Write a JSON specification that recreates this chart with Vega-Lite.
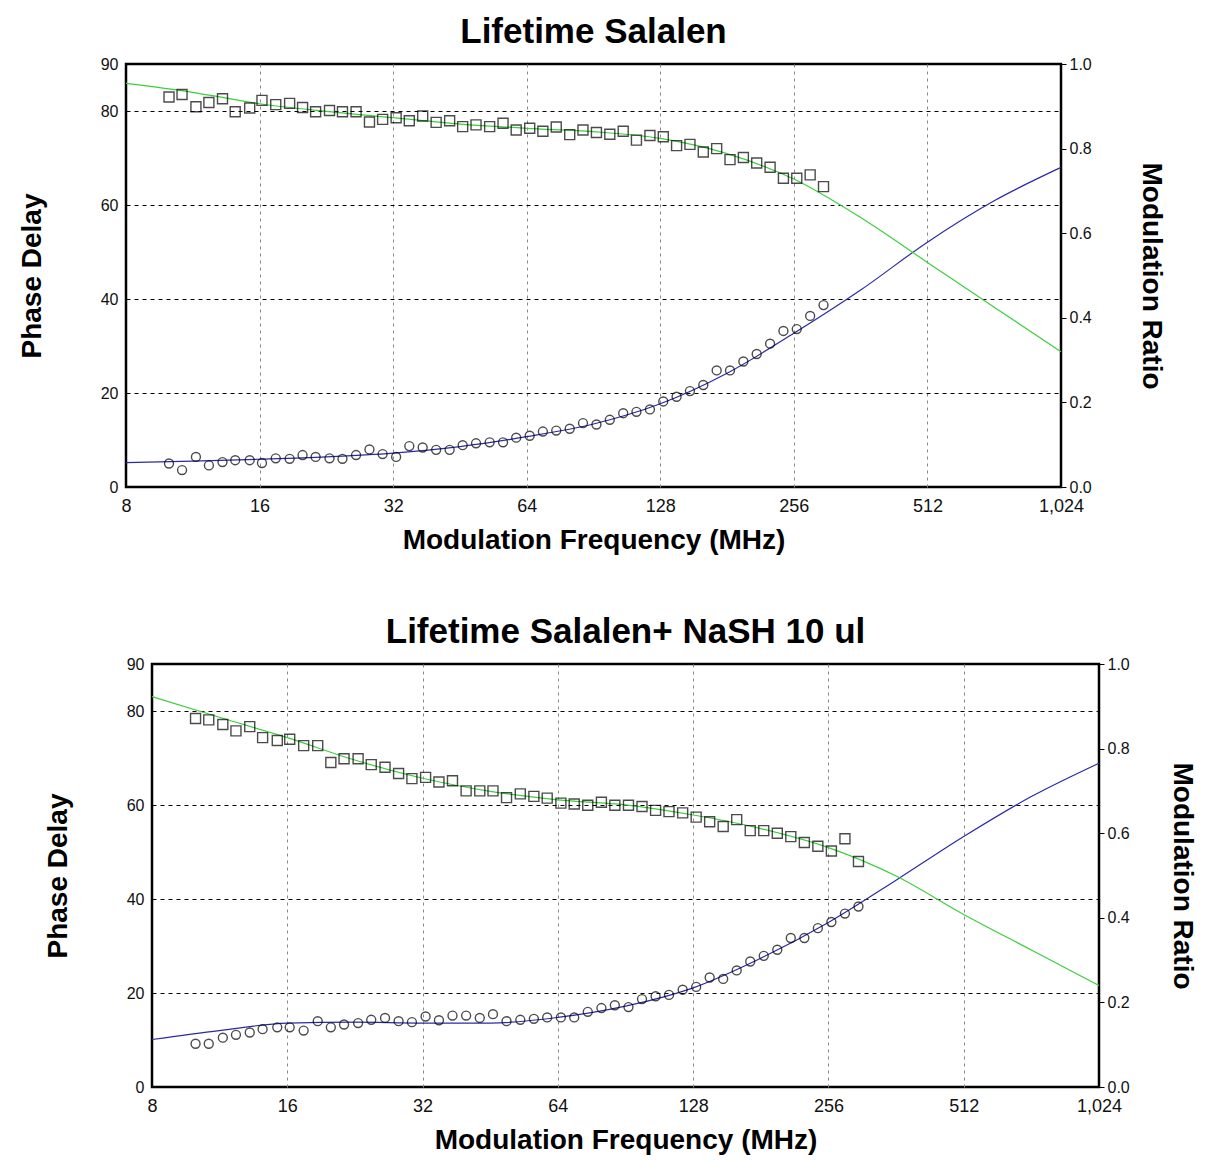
{
  "$schema": "https://vega.github.io/schema/vega-lite/v6.json",
  "background": "white",
  "padding": {"left": 0, "top": 13, "right": 0, "bottom": 0},
  "config": {
    "font": "Liberation Sans",
    "view": {"stroke": "black", "strokeWidth": 2.5},
    "title": {"font": "Liberation Sans", "fontSize": 35, "fontWeight": "bold", "color": "black", "anchor": "middle", "frame": "group", "offset": 6},
    "axis": {"labelFont": "Liberation Sans", "labelColor": "#111", "titleFont": "Liberation Sans", "titleFontWeight": "bold", "titleColor": "black", "titleFontSize": 28}
  },
  "datasets": {
    "top_pts": [
      {"f": 10.0, "phase": 5.0, "mod": 0.922}, {"f": 10.7, "phase": 3.6, "mod": 0.928}, {"f": 11.5, "phase": 6.4, "mod": 0.899}, {"f": 12.3, "phase": 4.6, "mod": 0.909}, {"f": 13.2, "phase": 5.3, "mod": 0.918},
      {"f": 14.1, "phase": 5.7, "mod": 0.887}, {"f": 15.2, "phase": 5.7, "mod": 0.896}, {"f": 16.2, "phase": 5.1, "mod": 0.914}, {"f": 17.4, "phase": 6.1, "mod": 0.904}, {"f": 18.7, "phase": 6.0, "mod": 0.907},
      {"f": 20.0, "phase": 6.8, "mod": 0.897}, {"f": 21.4, "phase": 6.4, "mod": 0.887}, {"f": 23.0, "phase": 6.1, "mod": 0.890}, {"f": 24.6, "phase": 6.0, "mod": 0.887}, {"f": 26.4, "phase": 6.8, "mod": 0.887},
      {"f": 28.3, "phase": 8.0, "mod": 0.863}, {"f": 30.3, "phase": 7.0, "mod": 0.869}, {"f": 32.5, "phase": 6.4, "mod": 0.873}, {"f": 34.8, "phase": 8.7, "mod": 0.866}, {"f": 37.3, "phase": 8.4, "mod": 0.877},
      {"f": 40.0, "phase": 7.9, "mod": 0.862}, {"f": 42.9, "phase": 7.9, "mod": 0.866}, {"f": 45.9, "phase": 8.9, "mod": 0.852}, {"f": 49.2, "phase": 9.3, "mod": 0.856}, {"f": 52.8, "phase": 9.5, "mod": 0.852},
      {"f": 56.6, "phase": 9.5, "mod": 0.860}, {"f": 60.6, "phase": 10.5, "mod": 0.844}, {"f": 65.0, "phase": 10.9, "mod": 0.848}, {"f": 69.6, "phase": 11.8, "mod": 0.841}, {"f": 74.6, "phase": 12.0, "mod": 0.851},
      {"f": 80.0, "phase": 12.4, "mod": 0.833}, {"f": 85.7, "phase": 13.6, "mod": 0.844}, {"f": 91.9, "phase": 13.3, "mod": 0.838}, {"f": 98.5, "phase": 14.3, "mod": 0.834}, {"f": 105.6, "phase": 15.7, "mod": 0.841},
      {"f": 113.1, "phase": 16.0, "mod": 0.820}, {"f": 121.3, "phase": 16.5, "mod": 0.831}, {"f": 130.0, "phase": 18.2, "mod": 0.828}, {"f": 139.3, "phase": 19.2, "mod": 0.807}, {"f": 149.3, "phase": 20.4, "mod": 0.810},
      {"f": 160.0, "phase": 21.7, "mod": 0.792}, {"f": 171.5, "phase": 24.8, "mod": 0.800}, {"f": 183.8, "phase": 24.8, "mod": 0.774}, {"f": 197.0, "phase": 26.7, "mod": 0.779}, {"f": 211.1, "phase": 28.3, "mod": 0.766},
      {"f": 226.3, "phase": 30.5, "mod": 0.756}, {"f": 242.5, "phase": 33.2, "mod": 0.730}, {"f": 259.9, "phase": 33.6, "mod": 0.730}, {"f": 278.6, "phase": 36.4, "mod": 0.738}, {"f": 298.6, "phase": 38.7, "mod": 0.710}
    ],
    "top_fit": [
      {"f": 8, "phase": 5.2, "mod": 0.954}, {"f": 11.3, "phase": 5.5, "mod": 0.933}, {"f": 16, "phase": 5.9, "mod": 0.906}, {"f": 22.6, "phase": 6.4, "mod": 0.888}, {"f": 32, "phase": 7.2, "mod": 0.873},
      {"f": 45.3, "phase": 8.6, "mod": 0.858}, {"f": 64, "phase": 10.7, "mod": 0.848}, {"f": 90.5, "phase": 13.4, "mod": 0.840}, {"f": 128, "phase": 17.7, "mod": 0.824}, {"f": 181, "phase": 24.2, "mod": 0.788},
      {"f": 256, "phase": 32.7, "mod": 0.728}, {"f": 362, "phase": 41.9, "mod": 0.637}, {"f": 512, "phase": 52.1, "mod": 0.531}, {"f": 724, "phase": 60.9, "mod": 0.425}, {"f": 1024, "phase": 68.0, "mod": 0.320}
    ],
    "bot_pts": [
      {"f": 10.0, "phase": 9.2, "mod": 0.871}, {"f": 10.7, "phase": 9.2, "mod": 0.868}, {"f": 11.5, "phase": 10.5, "mod": 0.857}, {"f": 12.3, "phase": 11.1, "mod": 0.842}, {"f": 13.2, "phase": 11.6, "mod": 0.852},
      {"f": 14.1, "phase": 12.3, "mod": 0.826}, {"f": 15.2, "phase": 12.7, "mod": 0.819}, {"f": 16.2, "phase": 12.7, "mod": 0.822}, {"f": 17.4, "phase": 12.0, "mod": 0.807}, {"f": 18.7, "phase": 14.0, "mod": 0.807},
      {"f": 20.0, "phase": 12.7, "mod": 0.767}, {"f": 21.4, "phase": 13.3, "mod": 0.776}, {"f": 23.0, "phase": 13.6, "mod": 0.776}, {"f": 24.6, "phase": 14.3, "mod": 0.762}, {"f": 26.4, "phase": 14.7, "mod": 0.756},
      {"f": 28.3, "phase": 14.0, "mod": 0.741}, {"f": 30.3, "phase": 13.8, "mod": 0.729}, {"f": 32.5, "phase": 15.0, "mod": 0.732}, {"f": 34.8, "phase": 14.2, "mod": 0.721}, {"f": 37.3, "phase": 15.2, "mod": 0.724},
      {"f": 40.0, "phase": 15.2, "mod": 0.700}, {"f": 42.9, "phase": 14.7, "mod": 0.700}, {"f": 45.9, "phase": 15.5, "mod": 0.700}, {"f": 49.2, "phase": 14.0, "mod": 0.684}, {"f": 52.8, "phase": 14.3, "mod": 0.693},
      {"f": 56.6, "phase": 14.5, "mod": 0.687}, {"f": 60.6, "phase": 14.8, "mod": 0.683}, {"f": 65.0, "phase": 14.8, "mod": 0.671}, {"f": 69.6, "phase": 14.8, "mod": 0.669}, {"f": 74.6, "phase": 16.0, "mod": 0.666},
      {"f": 80.0, "phase": 16.8, "mod": 0.673}, {"f": 85.7, "phase": 17.4, "mod": 0.666}, {"f": 91.9, "phase": 17.0, "mod": 0.666}, {"f": 98.5, "phase": 18.7, "mod": 0.663}, {"f": 105.6, "phase": 19.3, "mod": 0.654},
      {"f": 113.1, "phase": 19.6, "mod": 0.651}, {"f": 121.3, "phase": 20.7, "mod": 0.648}, {"f": 130.0, "phase": 21.3, "mod": 0.638}, {"f": 139.3, "phase": 23.3, "mod": 0.627}, {"f": 149.3, "phase": 23.0, "mod": 0.616},
      {"f": 160.0, "phase": 24.8, "mod": 0.632}, {"f": 171.5, "phase": 26.7, "mod": 0.606}, {"f": 183.8, "phase": 27.9, "mod": 0.606}, {"f": 197.0, "phase": 29.2, "mod": 0.600}, {"f": 211.1, "phase": 31.7, "mod": 0.592},
      {"f": 226.3, "phase": 31.7, "mod": 0.578}, {"f": 242.5, "phase": 33.8, "mod": 0.569}, {"f": 259.9, "phase": 35.1, "mod": 0.558}, {"f": 278.6, "phase": 36.9, "mod": 0.587}, {"f": 298.6, "phase": 38.4, "mod": 0.533}
    ],
    "bot_fit": [
      {"f": 8, "phase": 10.1, "mod": 0.923}, {"f": 11.3, "phase": 12.0, "mod": 0.874}, {"f": 16, "phase": 13.6, "mod": 0.826}, {"f": 22.6, "phase": 13.8, "mod": 0.773}, {"f": 32, "phase": 13.6, "mod": 0.730},
      {"f": 45.3, "phase": 13.6, "mod": 0.699}, {"f": 64, "phase": 14.8, "mod": 0.679}, {"f": 90.5, "phase": 17.2, "mod": 0.667}, {"f": 128, "phase": 21.1, "mod": 0.643}, {"f": 181, "phase": 27.4, "mod": 0.611},
      {"f": 256, "phase": 35.0, "mod": 0.566}, {"f": 362, "phase": 44.0, "mod": 0.499}, {"f": 512, "phase": 53.3, "mod": 0.408}, {"f": 724, "phase": 61.8, "mod": 0.324}, {"f": 1024, "phase": 68.9, "mod": 0.240}
    ]
  },
  "spacing": 57,
  "vconcat": [
    {
      "spacing": 0,
      "hconcat": [
        {"width": 16, "height": 10, "view": {"stroke": null}, "data": {"name": "top_fit"}, "mark": {"type": "point", "opacity": 0}, "encoding": {}},
        {
          "width": 935, "height": 423,
          "title": "Lifetime Salalen",
          "encoding": {
            "x": {"field": "f", "type": "quantitative",
              "scale": {"type": "log", "base": 2, "domain": [8, 1024], "nice": false},
              "axis": {"values": [8, 16, 32, 64, 128, 256, 512, 1024], "format": ",d", "title": "Modulation Frequency (MHz)", "labelFontSize": 18, "labelPadding": 10, "labelFlush": false, "ticks": false, "domain": false, "grid": true, "gridColor": "#888", "gridDash": [3, 4], "gridWidth": 1, "gridOpacity": {"condition": {"test": "datum.value === 8 || datum.value === 1024", "value": 0}, "value": 1}, "titlePadding": 11}}
          },
          "layer": [
            {
              "layer": [
                {"data": {"name": "top_fit"}, "mark": {"type": "line", "color": "#2a2aa8", "strokeWidth": 1.2, "interpolate": "monotone"},
                 "encoding": {"y": {"field": "phase", "type": "quantitative", "scale": {"domain": [0, 90], "nice": false},
                   "axis": {"orient": "left", "values": [0, 20, 40, 60, 80, 90], "title": "Phase Delay", "labelFontSize": 16, "labelPadding": 8, "ticks": false, "domain": false, "grid": true, "gridColor": "black", "gridDash": [4, 4], "gridWidth": 1, "gridOpacity": {"condition": {"test": "datum.value === 0 || datum.value === 90", "value": 0}, "value": 1}, "titlePadding": 54}}}},
                {"data": {"name": "top_pts"}, "mark": {"type": "point", "shape": "circle", "size": 80, "filled": false, "stroke": "black", "strokeWidth": 1.4},
                 "encoding": {"y": {"field": "phase", "type": "quantitative"}}}
              ]
            },
            {
              "layer": [
                {"data": {"name": "top_fit"}, "mark": {"type": "line", "color": "#3ccf3c", "strokeWidth": 1.2, "interpolate": "monotone"},
                 "encoding": {"y": {"field": "mod", "type": "quantitative", "scale": {"domain": [0, 1], "nice": false},
                   "axis": {"orient": "right", "values": [0, 0.2, 0.4, 0.6, 0.8, 1.0], "format": ".1f", "title": "Modulation Ratio", "labelFontSize": 16, "labelPadding": 3, "ticks": true, "tickSize": 5, "tickColor": "black", "domain": false, "grid": false, "titlePadding": 45}}}},
                {"data": {"name": "top_pts"}, "mark": {"type": "point", "shape": "square", "size": 100, "filled": false, "stroke": "black", "strokeWidth": 1.4},
                 "encoding": {"y": {"field": "mod", "type": "quantitative"}}}
              ]
            }
          ],
          "resolve": {"scale": {"y": "independent"}}
        }
      ]
    },
    {
      "spacing": 0,
      "hconcat": [
        {"width": 42, "height": 10, "view": {"stroke": null}, "data": {"name": "bot_fit"}, "mark": {"type": "point", "opacity": 0}, "encoding": {}},
        {
          "width": 947, "height": 423,
          "title": "Lifetime Salalen+ NaSH 10 ul",
          "encoding": {
            "x": {"field": "f", "type": "quantitative",
              "scale": {"type": "log", "base": 2, "domain": [8, 1024], "nice": false},
              "axis": {"values": [8, 16, 32, 64, 128, 256, 512, 1024], "format": ",d", "title": "Modulation Frequency (MHz)", "labelFontSize": 18, "labelPadding": 10, "labelFlush": false, "ticks": false, "domain": false, "grid": true, "gridColor": "#888", "gridDash": [3, 4], "gridWidth": 1, "gridOpacity": {"condition": {"test": "datum.value === 8 || datum.value === 1024", "value": 0}, "value": 1}, "titlePadding": 11}}
          },
          "layer": [
            {
              "layer": [
                {"data": {"name": "bot_fit"}, "mark": {"type": "line", "color": "#2a2aa8", "strokeWidth": 1.2, "interpolate": "monotone"},
                 "encoding": {"y": {"field": "phase", "type": "quantitative", "scale": {"domain": [0, 90], "nice": false},
                   "axis": {"orient": "left", "values": [0, 20, 40, 60, 80, 90], "title": "Phase Delay", "labelFontSize": 16, "labelPadding": 8, "ticks": false, "domain": false, "grid": true, "gridColor": "black", "gridDash": [4, 4], "gridWidth": 1, "gridOpacity": {"condition": {"test": "datum.value === 0 || datum.value === 90", "value": 0}, "value": 1}, "titlePadding": 54}}}},
                {"data": {"name": "bot_pts"}, "mark": {"type": "point", "shape": "circle", "size": 80, "filled": false, "stroke": "black", "strokeWidth": 1.4},
                 "encoding": {"y": {"field": "phase", "type": "quantitative"}}}
              ]
            },
            {
              "layer": [
                {"data": {"name": "bot_fit"}, "mark": {"type": "line", "color": "#3ccf3c", "strokeWidth": 1.2, "interpolate": "monotone"},
                 "encoding": {"y": {"field": "mod", "type": "quantitative", "scale": {"domain": [0, 1], "nice": false},
                   "axis": {"orient": "right", "values": [0, 0.2, 0.4, 0.6, 0.8, 1.0], "format": ".1f", "title": "Modulation Ratio", "labelFontSize": 16, "labelPadding": 3, "ticks": true, "tickSize": 5, "tickColor": "black", "domain": false, "grid": false, "titlePadding": 38}}}},
                {"data": {"name": "bot_pts"}, "mark": {"type": "point", "shape": "square", "size": 100, "filled": false, "stroke": "black", "strokeWidth": 1.4},
                 "encoding": {"y": {"field": "mod", "type": "quantitative"}}}
              ]
            }
          ],
          "resolve": {"scale": {"y": "independent"}}
        }
      ]
    }
  ]
}
